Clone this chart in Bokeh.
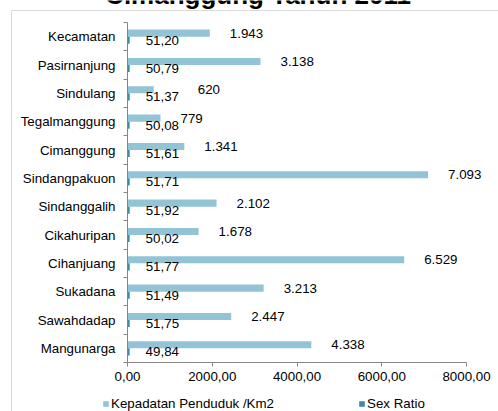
from bokeh.plotting import figure
from bokeh.models import (ColumnDataSource, Range1d, LinearAxis, FixedTicker,
                          Legend, LegendItem, BoxAnnotation)
from bokeh.core.properties import value
from bokeh.transform import dodge
from bokeh.embed import file_html
from bokeh.resources import INLINE

title_text = "Cimanggung Tahun 2011"
categories = ["Kecamatan", "Pasirnanjung", "Sindulang", "Tegalmanggung", "Cimanggung",
              "Sindangpakuon", "Sindanggalih", "Cikahuripan", "Cihanjuang", "Sukadana",
              "Sawahdadap", "Mangunarga"]
kepadatan = [1943, 3138, 620, 779, 1341, 7093, 2102, 1678, 6529, 3213, 2447, 4338]
sex_ratio = [51.20, 50.79, 51.37, 50.08, 51.61, 51.71, 51.92, 50.02, 51.77, 51.49, 51.75, 49.84]
x_ticks = [0, 2000, 4000, 6000, 8000]
x_tick_labels = ["0,00", "2000,00", "4000,00", "6000,00", "8000,00"]
series_names = ["Kepadatan Penduduk /Km2", "Sex Ratio"]

BLUE = "#93C4D6"
TEAL = "#3A8CA4"
AXIS = "#868686"
FONT = "Liberation Sans"
FS = "10pt"

# page geometry (pixels)
W, H = 498, 411
X0_PX, X8000_PX = 127, 466        # where value 0 and 8000 fall
Y_TOP_PX, Y_BOT_PX = 22, 362      # top / bottom of the category band

n = len(categories)
centers = [n - 1 - i + 0.5 for i in range(n)]
kep_labels = [f"{v:,}".replace(",", ".") for v in kepadatan]
sr_labels = [f"{v:.2f}".replace(".", ",") for v in sex_ratio]
kep_dx = [44 if c == "Sindulang" else 20 for c in categories]

src = ColumnDataSource(dict(center=centers, kep=kepadatan, sr=sex_ratio,
                            kep_lbl=kep_labels, sr_lbl=sr_labels, kep_dx=kep_dx))

xs = (X8000_PX - X0_PX) / x_ticks[-1]
ys = (Y_BOT_PX - Y_TOP_PX) / n
x_range = Range1d(-X0_PX / xs, (W - X0_PX) / xs)
y_range = Range1d(-(H - Y_BOT_PX) / ys, Y_BOT_PX / ys)

p = figure(width=W, height=H, x_range=x_range, y_range=y_range,
           output_backend="svg", toolbar_location=None,
           x_axis_location=None, y_axis_location=None,
           min_border_left=0, min_border_right=0, min_border_top=0, min_border_bottom=0)
p.outline_line_color = None
p.grid.visible = False

r1 = p.hbar(y=dodge("center", 0.125), left=0, right="kep", height=0.25,
            fill_color=BLUE, line_color=None, source=src)
r2 = p.hbar(y=dodge("center", -0.125), left=0, right="sr", height=0.25,
            fill_color=TEAL, line_color=None, source=src)

p.text(x="kep", y=dodge("center", 0.125), text="kep_lbl", x_offset="kep_dx",
       text_baseline="middle", text_align="left", text_font=value(FONT),
       text_font_size=FS, text_color="#000000", source=src)
p.text(x="sr", y=dodge("center", -0.125), text="sr_lbl", x_offset=16,
       text_baseline="middle", text_align="left", text_font=value(FONT),
       text_font_size=FS, text_color="#000000", source=src)

xaxis = LinearAxis(fixed_location=0, ticker=FixedTicker(ticks=x_ticks, minor_ticks=[]),
                   bounds=(0, x_ticks[-1]),
                   major_label_overrides={t_: l for t_, l in zip(x_ticks, x_tick_labels)})
xaxis.axis_line_color = AXIS
xaxis.major_tick_line_color = AXIS
xaxis.major_tick_in = 0
xaxis.major_tick_out = 4
xaxis.minor_tick_line_color = None
xaxis.major_label_standoff = 5
xaxis.major_label_text_font = FONT
xaxis.major_label_text_font_size = FS
xaxis.major_label_text_color = "#000000"
p.add_layout(xaxis, "below")

yaxis = LinearAxis(fixed_location=0,
                   ticker=FixedTicker(ticks=centers, minor_ticks=list(range(n + 1))),
                   bounds=(0, n),
                   major_label_overrides={c: name for c, name in zip(centers, categories)})
yaxis.axis_line_color = AXIS
yaxis.major_tick_line_color = None
yaxis.major_tick_in = 0
yaxis.major_tick_out = 0
yaxis.minor_tick_line_color = AXIS
yaxis.minor_tick_in = 0
yaxis.minor_tick_out = 4
yaxis.major_label_standoff = 8
yaxis.major_label_text_font = FONT
yaxis.major_label_text_font_size = FS
yaxis.major_label_text_color = "#000000"
p.add_layout(yaxis, "left")

box = BoxAnnotation(left=11, right=W + 50, top=H - 10, bottom=-50,
                    left_units="screen", right_units="screen",
                    top_units="screen", bottom_units="screen",
                    fill_alpha=0, line_color=AXIS, line_width=1)
p.add_layout(box)

# chart title: only its lower part shows at the top edge, as in the reference
p.text(x=[x_range.start + 257.5 / xs], y=[y_range.end + 6 / ys], text=[title_text],
       text_align="center", text_baseline="middle", text_font=value(FONT),
       text_font_size="26px", text_font_style="bold", text_color="#000000")

legend = Legend(items=[LegendItem(label=series_names[0], renderers=[r1]),
                       LegendItem(label=series_names[1], renderers=[r2])],
                location=(102, 0), orientation="horizontal",
                glyph_width=7, glyph_height=7, label_standoff=2, spacing=84,
                padding=0, margin=0, border_line_color=None, background_fill_alpha=0,
                label_text_font=FONT, label_text_font_size=FS,
                label_text_color="#000000", label_height=13)
p.add_layout(legend, "center")

open("out.html", "w").write(file_html(p, INLINE))
